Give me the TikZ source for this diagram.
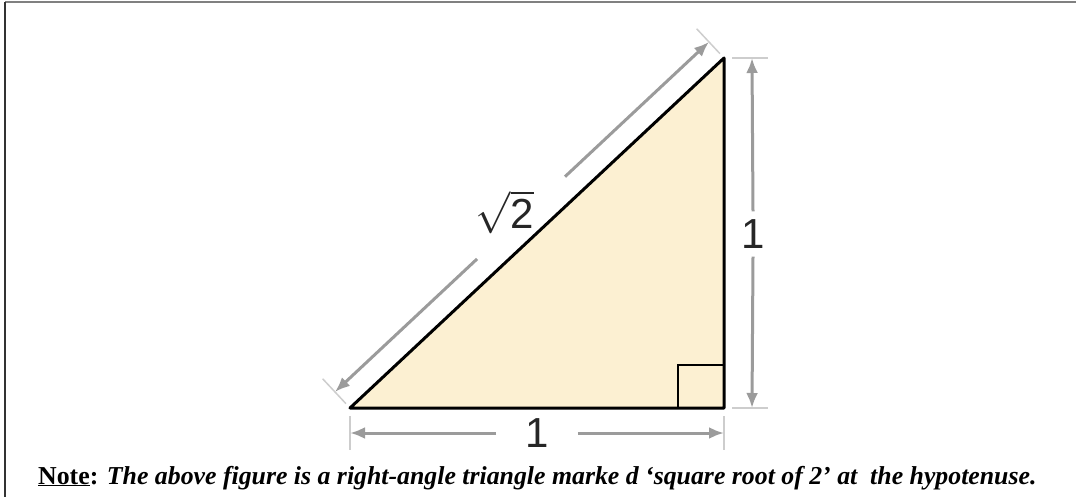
\RequirePackage{fix-cm}
\documentclass[tikz,border=0pt]{standalone}
\usepackage{fontspec}
\setmainfont{Liberation Serif}
\newfontfamily\dimfont{Liberation Sans}
\usetikzlibrary{arrows.meta,calc}
\definecolor{trifill}{RGB}{252,240,210}
\definecolor{dimgray}{RGB}{155,155,155}
\definecolor{extgray}{RGB}{205,205,205}

\begin{document}
\begin{tikzpicture}[x=1pt, y=-1pt, >={Latex[length=15pt,width=12pt]},
  side/.style={draw=black, line width=3pt, line join=round},
  dim/.style={line width=3pt, ->, dimgray},
  ext/.style={line width=1.5pt, extgray},
  dimlbl/.style={font=\dimfont\fontsize{42}{46}\selectfont, text=black!85,
    inner sep=0pt},
  note/.style={font=\fontsize{25.8}{30}\selectfont, inner sep=0pt},
]
\useasboundingbox (0,0) rectangle (1076,497);

%% Frame (top and left edges only)
\draw[line width=2pt, gray] (5,2) -- (1076,2);
\draw[line width=2pt, black!80] (5,2) -- (5,497);

%% Triangle corners
\coordinate (A) at (350,408);
\coordinate (B) at (724,408);
\coordinate (C) at (724,58);

%% Triangle and right-angle mark
\fill[trifill] (A) -- (B) -- (C) -- cycle;
\draw[line width=2pt] ($(B)+(-46,0)$) rectangle ($(B)+(0,-43)$);
\draw[side] (A) -- (B) -- (C) -- cycle;

%% Bottom dimension
\draw[ext] ($(A)+(0,8)$) -- ($(A)+(0,42)$);
\draw[ext] ($(B)+(0,8)$) -- ($(B)+(0,42)$);
\node[dimlbl, inner xsep=29pt] (lblB) at (537,433) {1};
\draw[dim] (lblB.west) -- ($(A)+(0,25)$);
\draw[dim] (lblB.east) -- ($(B)+(0,25)$);

%% Right dimension
\draw[ext] ($(C)+(8,0)$) -- ($(C)+(44,0)$);
\draw[ext] ($(B)+(8,0)$) -- ($(B)+(44,0)$);
\node[dimlbl, inner ysep=8pt] (lblR) at (753,234) {1};
\draw[dim] (lblR.north) -- ($(C)+(28,0)$);
\draw[dim] (lblR.south) -- ($(B)+(28,0)$);

%% Hypotenuse dimension
\coordinate (hA) at ($(A)!22pt!90:(C)$);
\coordinate (hC) at ($(C)!22pt!-90:(A)$);
\draw[ext] ($(A)!6pt!90:(C)$) -- ($(A)!40pt!90:(C)$);
\draw[ext] ($(C)!6pt!-90:(A)$) -- ($(C)!40pt!-90:(A)$);
\coordinate (gap1) at ($(hA)!0.38!(hC)$);
\coordinate (gap2) at ($(hA)!0.615!(hC)$);
\draw[dim] (gap1) -- (hA);
\draw[dim] (gap2) -- (hC);
\node[dimlbl] (lblH) at (505,212) {$\sqrt{\mbox{\dimfont\fontsize{42}{46}\selectfont 2}}$};

%% Caption
\node[note, anchor=base west] (note) at (38,484) {%
  \textbf{\underline{Note}:} \textbf{\textit{The above figure is a right-angle
  triangle marke d ‘square root of 2’ at\ \ the hypotenuse.}}};

\end{tikzpicture}
\end{document}
